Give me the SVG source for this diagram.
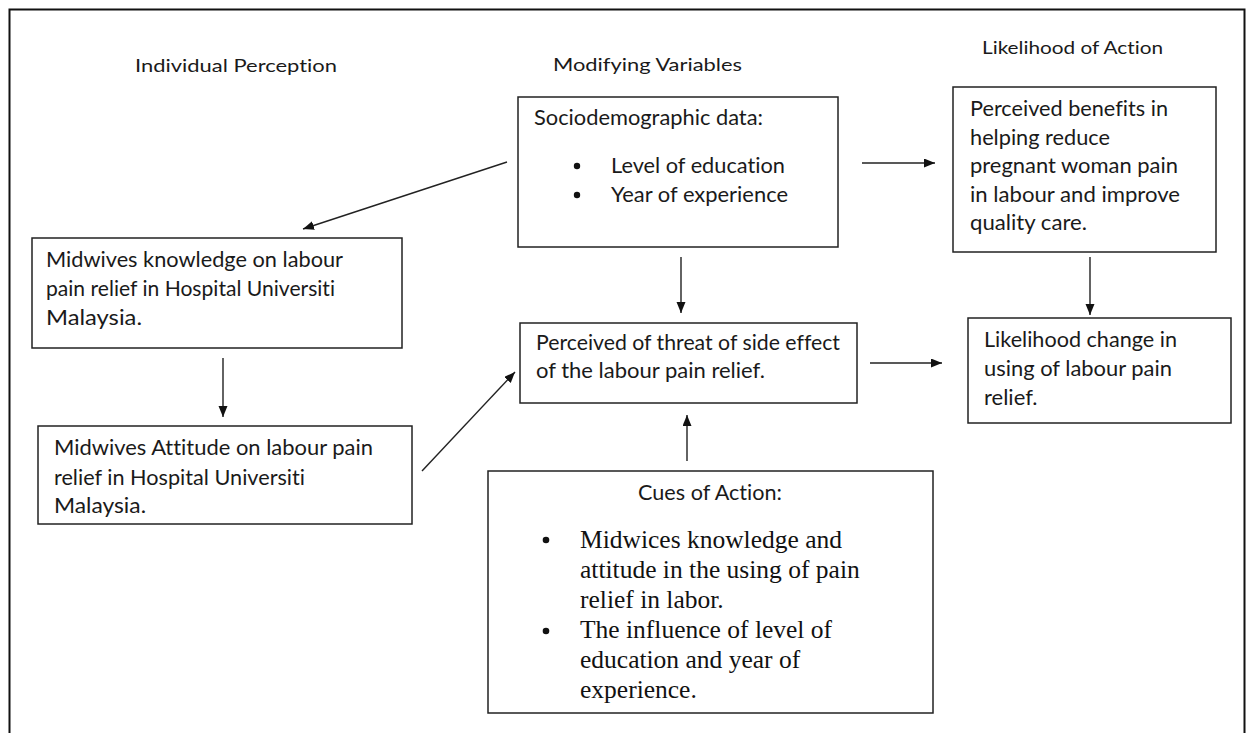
<svg xmlns="http://www.w3.org/2000/svg" width="1251" height="733" viewBox="0 0 1251 733">
<style>
.frame{fill:none;stroke:#111;stroke-width:2}
.box{fill:#fff;stroke:#222;stroke-width:1.5}
.t{font-family:Lato,"Liberation Sans",sans-serif;font-size:22px;fill:#1a1a1a;font-variant-ligatures:none}
.h{font-family:Lato,"Liberation Sans",sans-serif;font-size:18px;fill:#1a1a1a;font-variant-ligatures:none}
.s{font-family:"Liberation Serif","Times New Roman",serif;font-size:25.5px;fill:#111}
.con line{stroke:#222;stroke-width:1.4;marker-end:url(#ah)}
.dot{fill:#111}
</style>
<defs>
<marker id="ah" markerUnits="userSpaceOnUse" markerWidth="12" markerHeight="10" refX="11" refY="4.5" orient="auto">
<path d="M0,0 L11,4.5 L0,9 z" fill="#111"/>
</marker>
</defs>
<rect width="1251" height="733" fill="#fff"/>
<rect class="frame" x="9.5" y="9.5" width="1235" height="740"/>

<g id="headers">
<text class="h" x="135" y="72" textLength="202" lengthAdjust="spacingAndGlyphs">Individual Perception</text>
<text class="h" x="553" y="71" textLength="189" lengthAdjust="spacingAndGlyphs">Modifying Variables</text>
<text class="h" x="982" y="54" textLength="181" lengthAdjust="spacingAndGlyphs">Likelihood of Action</text>
</g>

<g id="socio">
<rect class="box" x="518" y="97" width="320" height="150"/>
<text class="t" x="534" y="125" textLength="229" lengthAdjust="spacingAndGlyphs">Sociodemographic data:</text>
<circle class="dot" cx="577" cy="166" r="3.2"/>
<text class="t" x="611" y="173" textLength="174" lengthAdjust="spacingAndGlyphs">Level of education</text>
<circle class="dot" cx="577" cy="195" r="3.2"/>
<text class="t" x="611" y="202" textLength="177" lengthAdjust="spacingAndGlyphs">Year of experience</text>
</g>

<g id="benefits">
<rect class="box" x="953" y="87" width="263" height="165"/>
<text class="t" x="970" y="116" textLength="198" lengthAdjust="spacingAndGlyphs">Perceived benefits in</text>
<text class="t" x="970" y="145" textLength="140" lengthAdjust="spacingAndGlyphs">helping reduce</text>
<text class="t" x="970" y="173" textLength="208" lengthAdjust="spacingAndGlyphs">pregnant woman pain</text>
<text class="t" x="970" y="202" textLength="210" lengthAdjust="spacingAndGlyphs">in labour and improve</text>
<text class="t" x="970" y="230" textLength="117" lengthAdjust="spacingAndGlyphs">quality care.</text>
</g>

<g id="knowledge">
<rect class="box" x="32" y="238" width="370" height="110"/>
<text class="t" x="46" y="267" textLength="297" lengthAdjust="spacingAndGlyphs">Midwives knowledge on labour</text>
<text class="t" x="46" y="296" textLength="289" lengthAdjust="spacingAndGlyphs">pain relief in Hospital Universiti</text>
<text class="t" x="46" y="325" textLength="96" lengthAdjust="spacingAndGlyphs">Malaysia.</text>
</g>

<g id="attitude">
<rect class="box" x="38" y="426" width="374" height="98"/>
<text class="t" x="54" y="455" textLength="319" lengthAdjust="spacingAndGlyphs">Midwives Attitude on labour pain</text>
<text class="t" x="54" y="485" textLength="251" lengthAdjust="spacingAndGlyphs">relief in Hospital Universiti</text>
<text class="t" x="54" y="513" textLength="92" lengthAdjust="spacingAndGlyphs">Malaysia.</text>
</g>

<g id="threat">
<rect class="box" x="520" y="323" width="337" height="80"/>
<text class="t" x="536" y="350" textLength="304" lengthAdjust="spacingAndGlyphs">Perceived of threat of side effect</text>
<text class="t" x="536" y="378" textLength="229" lengthAdjust="spacingAndGlyphs">of the labour pain relief.</text>
</g>

<g id="likelihood">
<rect class="box" x="968" y="318" width="263" height="105"/>
<text class="t" x="984" y="347" textLength="193" lengthAdjust="spacingAndGlyphs">Likelihood change in</text>
<text class="t" x="984" y="376" textLength="188" lengthAdjust="spacingAndGlyphs">using of labour pain</text>
<text class="t" x="984" y="405">relief.</text>
</g>

<g id="cues">
<rect class="box" x="488" y="471" width="445" height="242"/>
<text class="t" x="638" y="500" textLength="144" lengthAdjust="spacingAndGlyphs">Cues of Action:</text>
<circle class="dot" cx="546" cy="540" r="3.3"/>
<text class="s" x="580" y="548">Midwices knowledge and</text>
<text class="s" x="580" y="578">attitude in the using of pain</text>
<text class="s" x="580" y="608">relief in labor.</text>
<circle class="dot" cx="546" cy="631" r="3.3"/>
<text class="s" x="580" y="638">The influence of level of</text>
<text class="s" x="580" y="668">education and year of</text>
<text class="s" x="580" y="698">experience.</text>
</g>

<g id="connectors" class="con">
<line x1="507" y1="162" x2="303" y2="229"/>
<line x1="223" y1="358" x2="223" y2="417"/>
<line x1="422" y1="471" x2="515" y2="372"/>
<line x1="681" y1="257" x2="681" y2="313"/>
<line x1="687" y1="461" x2="687" y2="415"/>
<line x1="862" y1="163" x2="935" y2="163"/>
<line x1="1090" y1="257" x2="1090" y2="315"/>
<line x1="870" y1="363" x2="942" y2="363"/>
</g>
</svg>
